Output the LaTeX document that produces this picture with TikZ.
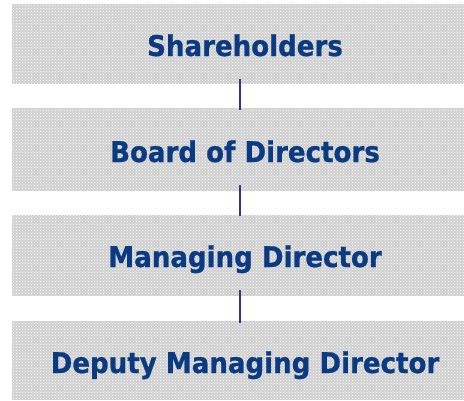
\documentclass[tikz,border=0pt]{standalone}
\usepackage{fontspec}
\setmainfont{DejaVu Sans}[BoldFeatures={FakeStretch=0.915,FakeBold=0.8}]
\usetikzlibrary{patterns}
\definecolor{boxgray}{HTML}{D0D0D0}
\definecolor{txtblue}{HTML}{0A3A82}
\definecolor{linecol}{HTML}{3A2E9A}
\tikzset{
  orgbox/.style={draw=none, fill=boxgray, minimum width=452pt, minimum height=#1, inner sep=0pt, anchor=north west},
  orgtext/.style={anchor=base, text=txtblue, font=\fontsize{28.5}{30}\selectfont\bfseries, inner sep=0pt},
  link/.style={draw=linecol, line width=1.8pt}
}
\begin{document}
\begin{tikzpicture}[x=1pt,y=-1pt]
\useasboundingbox (0,0) rectangle (464,400);
\node[orgbox=80pt] (b1) at (12,4) {};
\node[orgbox=83pt] (b2) at (12,108) {};
\node[orgbox=81pt] (b3) at (12,215) {};
\node[orgbox=79pt] (b4) at (12,321) {};
\foreach \b in {b1,b2,b3,b4}{
  \fill[pattern=crosshatch dots, pattern color=white] (\b.north west) rectangle (\b.south east);
}
\node[orgtext] (t1) at (245,56) {Shareholders};
\node[orgtext] (t2) at (245,162) {Board of Directors};
\node[orgtext] (t3) at (245,267) {Managing Director};
\node[orgtext] (t4) at (245,373) {Deputy Managing Director};
\draw[link] ([xshift=2pt,yshift=5pt]b1.south) -- ([xshift=2pt,yshift=-2pt]b2.north);
\draw[link] ([xshift=2pt,yshift=6pt]b2.south) -- ([xshift=2pt,yshift=-1pt]b3.north);
\draw[link] ([xshift=2pt,yshift=6pt]b3.south) -- ([xshift=2pt,yshift=-2pt]b4.north);
\end{tikzpicture}
\end{document}
